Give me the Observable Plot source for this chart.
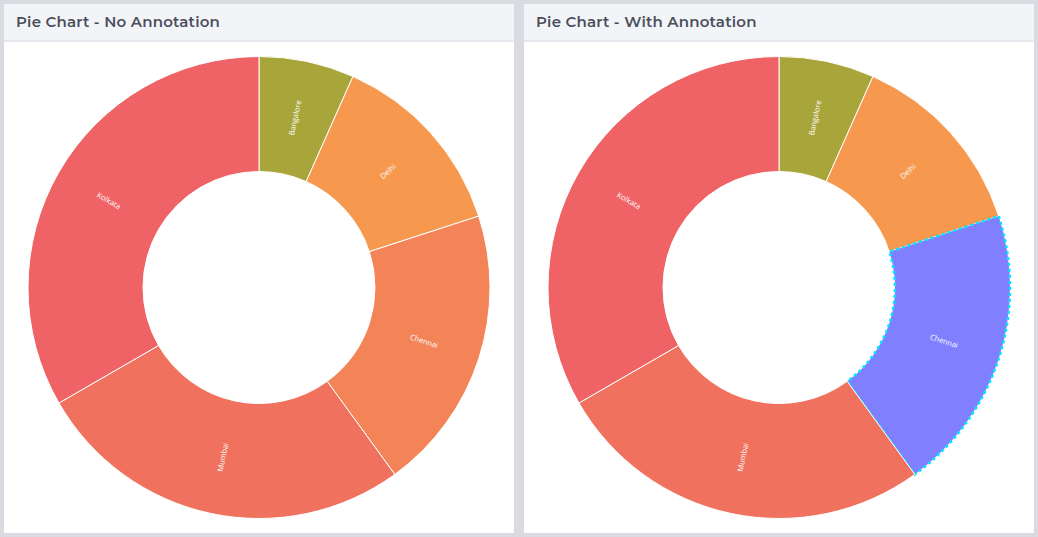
<!DOCTYPE html>
<html><head>
<script src="https://cdn.jsdelivr.net/npm/d3@7"></script>
<script src="https://cdn.jsdelivr.net/npm/@observablehq/plot@0.6"></script>
<style>
body{margin:0;background:#d9dbe0;font-family:Montserrat,"Open Sans",sans-serif;}
.wrap{display:flex;gap:10px;padding:4px 4px 0 4px;}
.panel{width:510px;height:529px;background:#fff;}
.hdr{height:36px;background:#f3f4f8;border-bottom:2px solid #e6e8ee;color:#4a4f5c;font-weight:600;font-size:15px;line-height:36px;padding-left:12px;letter-spacing:0.2px;}
</style>
</head><body>
<div class="wrap">
<div class="panel"><div class="hdr">Pie Chart - No Annotation</div><div id="c1"></div></div>
<div class="panel"><div class="hdr">Pie Chart - With Annotation</div><div id="c2"></div></div>
</div>
<script>
const cities = ["Bangalore", "Delhi", "Chennai", "Mumbai", "Kolkata"];
const values = [10, 20, 30, 40, 50];
const colors = ["#a8a53a", "#f6994f", "#f38458", "#f0725e", "#ef6366"];

function donut(highlight) {
  const data = cities.map((c, i) => ({city: c, value: values[i]}));
  const arcs = d3.pie().sort(null).value(d => d.value)(data);
  const ring = (index, scales, vals, dims) => {
    const cx = dims.width / 2, cy = dims.height / 2;
    const outer = 231, inner = 116;
    const arc = d3.arc().innerRadius(inner).outerRadius(outer);
    const g = d3.create("svg:g").attr("transform", `translate(${cx},${cy})`);
    arcs.forEach(a => {
      const hl = a.data.city === highlight;
      g.append("path").attr("d", arc(a))
        .attr("fill", hl ? "#8080ff" : scales.color(a.data.city))
        .attr("stroke", hl ? "#00e5ff" : "#fff")
        .attr("stroke-width", hl ? 2.5 : 1)
        .attr("stroke-dasharray", hl ? "3,3" : null);
    });
    arcs.forEach(a => {
      const mid = (a.startAngle + a.endAngle) / 2;
      const r = (inner + outer) / 2;
      const x = r * Math.sin(mid), y = -r * Math.cos(mid);
      let rot = mid * 180 / Math.PI - 90;
      if (rot > 90) rot -= 180;
      g.append("text").attr("transform", `translate(${x},${y}) rotate(${rot})`)
        .attr("text-anchor", "middle").attr("dy", "0.35em")
        .attr("fill", "#fff").attr("font-size", 7.5)
        .attr("font-family", "'Open Sans',sans-serif").text(a.data.city);
    });
    return g.node();
  };
  return Plot.plot({
    width: 510, height: 491, margin: 0,
    x: {axis: null}, y: {axis: null},
    color: {domain: cities, range: colors},
    marks: [ring]
  });
}
document.querySelector("#c1").append(donut(null));
document.querySelector("#c2").append(donut("Chennai"));
</script>
</body></html>
